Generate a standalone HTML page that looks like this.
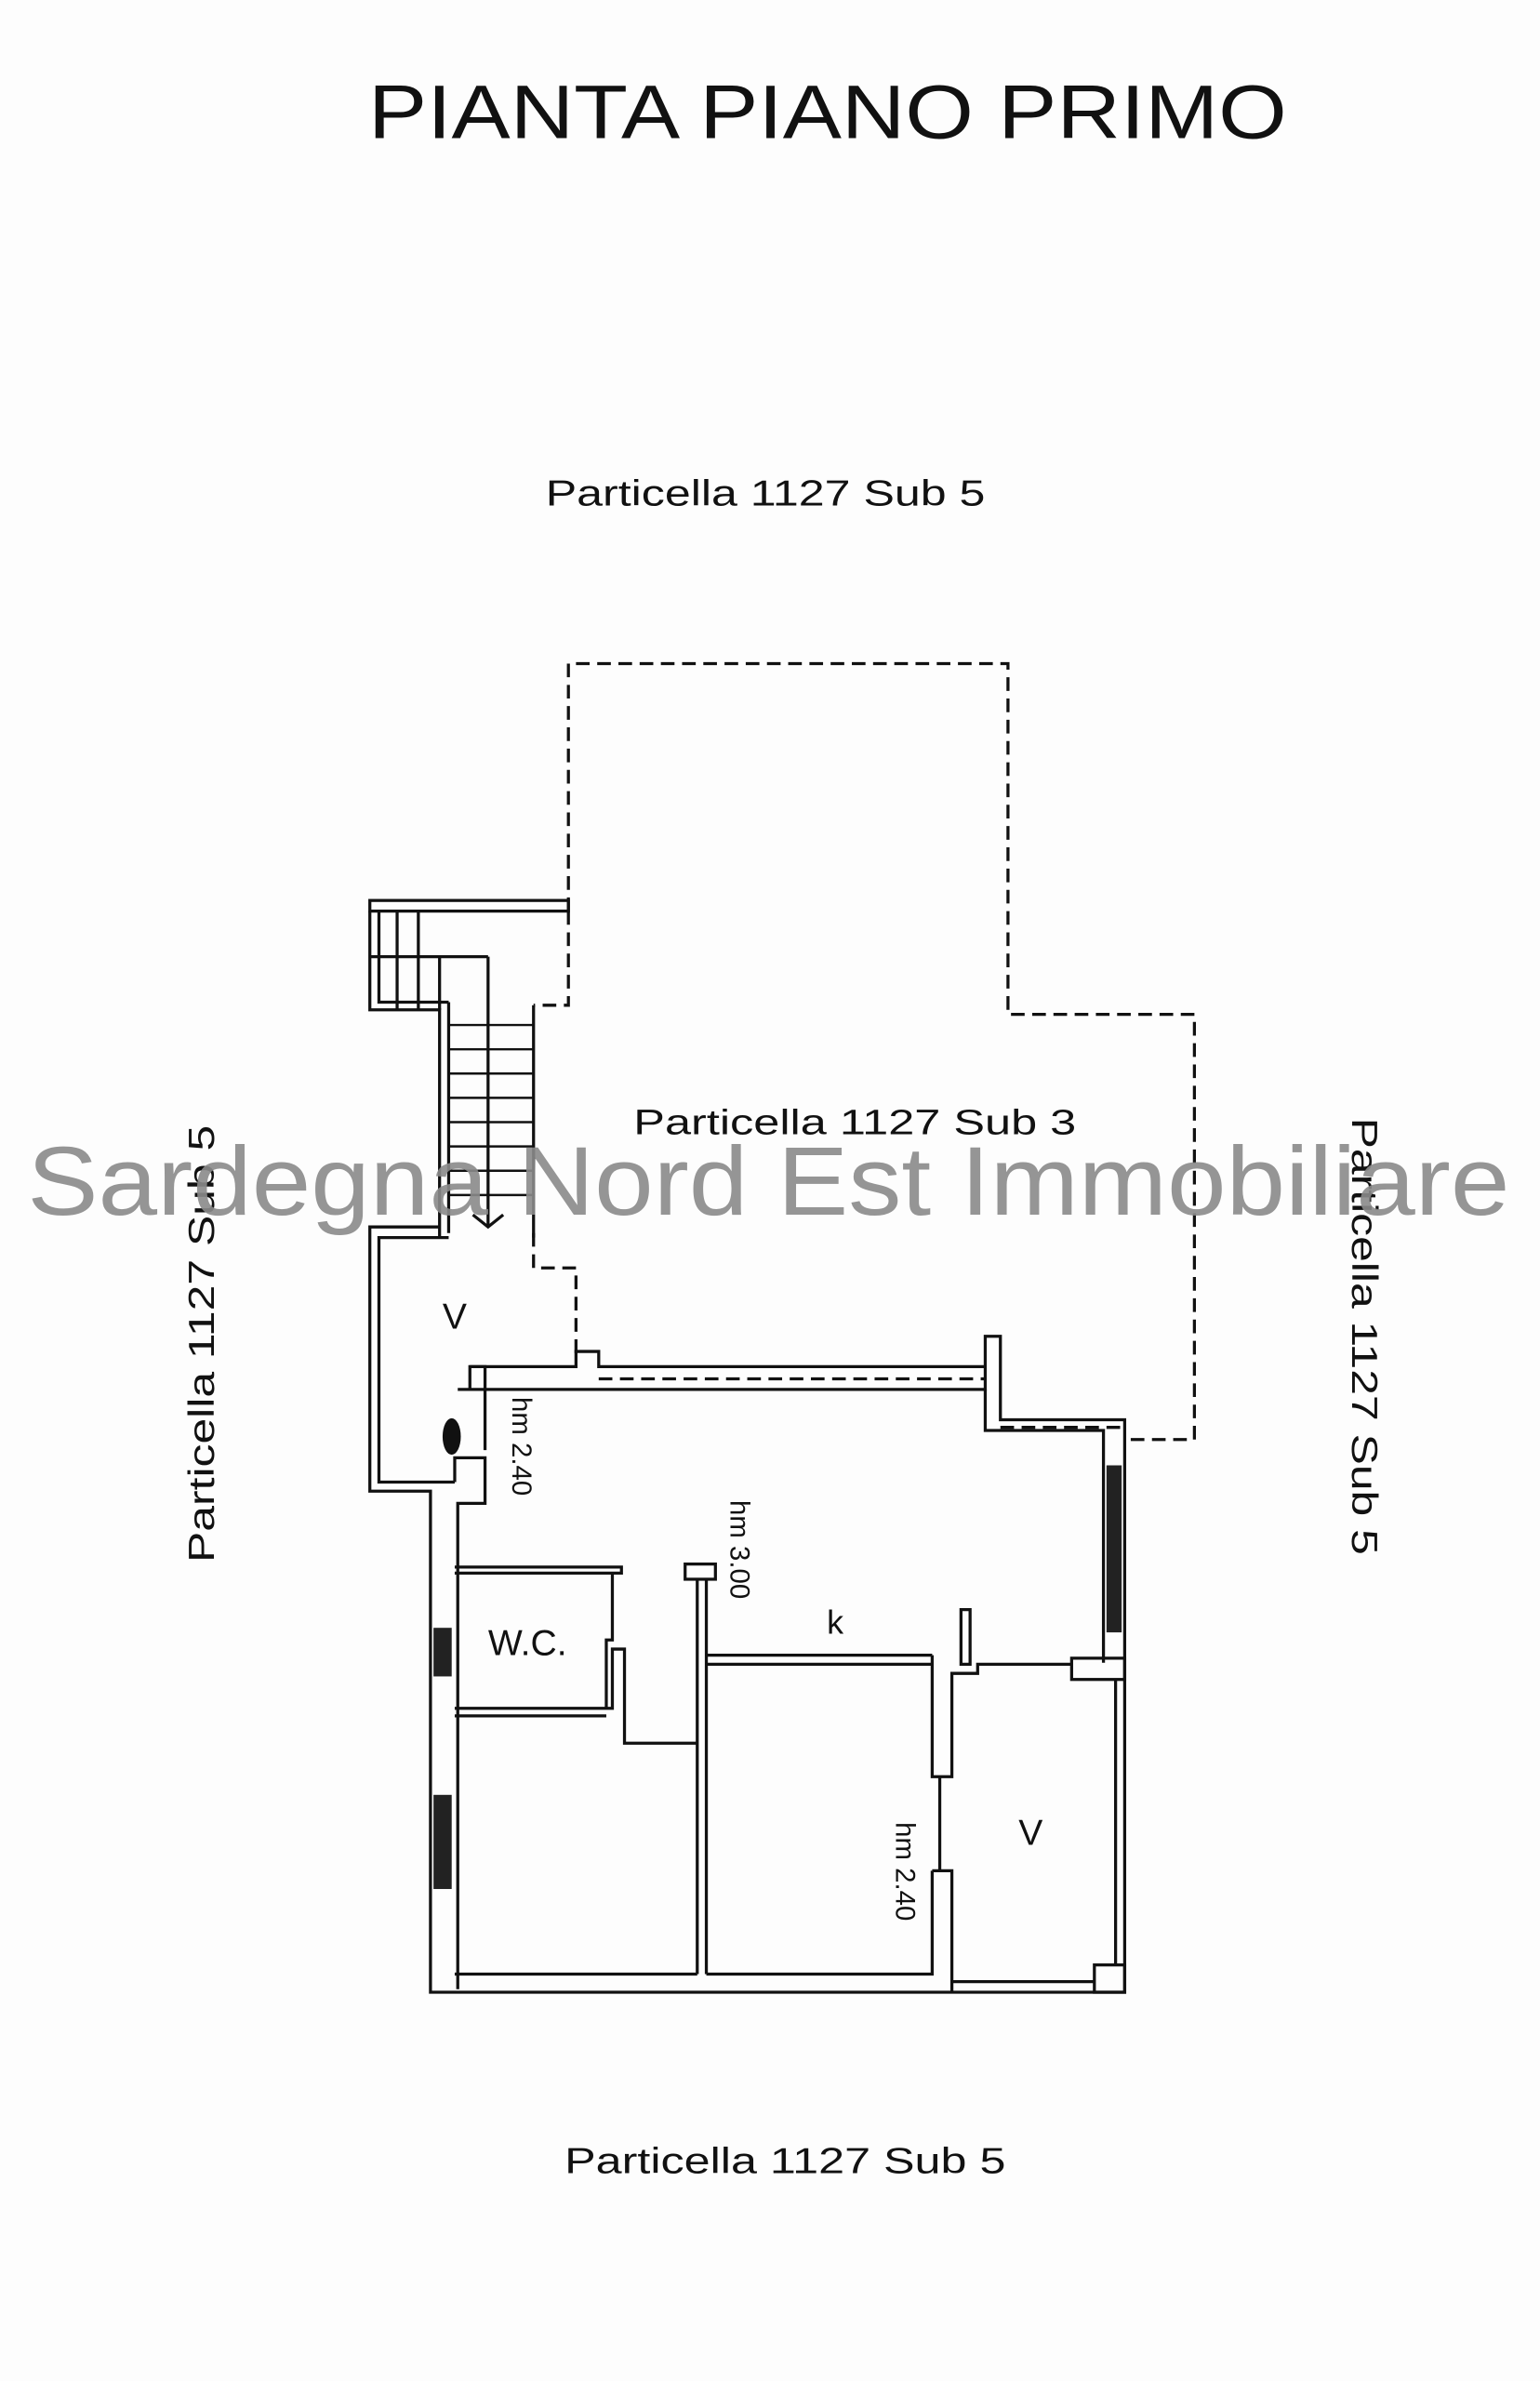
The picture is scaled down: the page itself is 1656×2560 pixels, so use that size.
<!DOCTYPE html>
<html><head><meta charset="utf-8"><style>
html,body{margin:0;padding:0;background:#fdfdfd;}
svg{display:block;}
text{font-family:"Liberation Sans",sans-serif;fill:#111;}
</style></head><body>
<svg width="1656" height="2560" viewBox="0 0 1016 1568" preserveAspectRatio="none" xmlns="http://www.w3.org/2000/svg">
<rect width="1016" height="1568" fill="#fdfdfd"/>
<text x="546" y="91" font-size="50" text-anchor="middle" textLength="606" lengthAdjust="spacingAndGlyphs">PIANTA PIANO PRIMO</text>
<text x="505" y="333" font-size="24" text-anchor="middle" textLength="290" lengthAdjust="spacingAndGlyphs">Particella 1127 Sub 5</text>
<text x="518" y="1431" font-size="24" text-anchor="middle" textLength="291" lengthAdjust="spacingAndGlyphs">Particella 1127 Sub 5</text>
<text transform="translate(141,885) rotate(-90)" font-size="24" text-anchor="middle" textLength="288" lengthAdjust="spacingAndGlyphs">Particella 1127 Sub 5</text>
<text transform="translate(892,880) rotate(90)" font-size="24" text-anchor="middle" textLength="288" lengthAdjust="spacingAndGlyphs">Particella 1127 Sub 5</text>
<text x="564" y="747" font-size="23" text-anchor="middle" textLength="292" lengthAdjust="spacingAndGlyphs">Particella 1127 Sub 3</text>

<g fill="none" stroke="#111" stroke-width="2">
<!-- dashed boundary -->
<polyline stroke-dasharray="9,5" points="375,600 375,437 665,437 665,668 788,668 788,948 742,948"/>
<polyline stroke-dasharray="9,5" points="375,600 375,662 352,662"/>
<polyline stroke-dasharray="9,5" points="352,812 352,835 380,835 380,892"/>
<polyline stroke-dasharray="9,5" points="395,908 650,908"/>
<polyline stroke-dasharray="9,5" points="660,940 742,940"/>
<!-- stairs block -->
<rect x="244" y="593" width="131" height="7"/>
<polyline points="244,600 244,665 290,665 290,815"/>
<polyline points="250,600 250,660 296,660"/>
<line x1="262" y1="600" x2="262" y2="665"/><line x1="276" y1="600" x2="276" y2="665"/><line x1="244" y1="630" x2="322" y2="630"/>
<line x1="290" y1="630" x2="290" y2="665"/>
<line x1="322" y1="630" x2="322" y2="808"/>
<polyline points="296,660 296,812"/>
<line x1="352" y1="662" x2="352" y2="815"/>
<g stroke-width="1.5">
<line x1="296" y1="675" x2="352" y2="675"/><line x1="296" y1="691" x2="352" y2="691"/><line x1="296" y1="707" x2="352" y2="707"/><line x1="296" y1="723" x2="352" y2="723"/><line x1="296" y1="739" x2="352" y2="739"/><line x1="296" y1="755" x2="352" y2="755"/><line x1="296" y1="771" x2="352" y2="771"/><line x1="296" y1="787" x2="352" y2="787"/>
</g>
<polyline points="312,800 322,808 332,800"/>
<!-- left veranda wall -->
<polyline points="290,808 244,808 244,982 285,982"/>
<polyline points="296,815 250,815 250,976 300,976"/>
<polyline points="300,976 300,960 320,960 320,990 302,990 302,1310"/>
<polyline points="284,982 284,1312 742,1312 742,935 660,935 660,880 650,880 650,915 302,915 310,915 310,900 320,900 320,915"/>
<polyline points="310,900 380,900 380,890 395,890 395,900 650,900"/>
<polyline points="320,915 320,955"/>
<polyline points="650,915 650,942 728,942 728,1095"/>
<rect x="707" y="1092" width="35" height="14"/>
<!-- interior walls -->
<polyline points="300,1032 410,1032 410,1036 300,1036"/>
<polyline points="300,1125 404,1125 404,1086 412,1086 412,1148 460,1148"/>
<polyline points="300,1130 400,1130"/>
<polyline points="404,1036 404,1080 400,1080 400,1125"/>
<polyline points="460,1040 460,1300"/>
<polyline points="466,1040 466,1300"/>
<rect x="452" y="1030" width="20" height="10"/>
<line x1="466" y1="1090" x2="615" y2="1090"/>
<line x1="466" y1="1096" x2="615" y2="1096"/>
<polyline points="615,1090 615,1170 628,1170 628,1102 645,1102 645,1096 707,1096"/>
<rect x="634" y="1060" width="6" height="36"/>
<line x1="620" y1="1170" x2="620" y2="1232"/>
<polyline points="615,1232 615,1300 466,1300"/>
<polyline points="615,1232 628,1232 628,1312"/>
<polyline points="628,1305 722,1305"/>
<rect x="722" y="1294" width="20" height="18"/>
<line x1="736" y1="1106" x2="736" y2="1294"/>
<line x1="300" y1="1300" x2="460" y2="1300"/>
</g>
<!-- windows -->
<rect x="286" y="1072" width="12" height="32" fill="#222"/>
<rect x="286" y="1182" width="12" height="62" fill="#222"/>
<rect x="730" y="965" width="10" height="110" fill="#222"/>
<ellipse cx="298" cy="946" rx="6" ry="12" fill="#111"/>
<text x="300" y="875" font-size="24" text-anchor="middle">V</text>
<text x="680" y="1215" font-size="24" text-anchor="middle">V</text>
<text x="348" y="1090" font-size="24" text-anchor="middle">W.C.</text>
<text x="551" y="1076" font-size="22" text-anchor="middle">k</text>
<text transform="translate(338,920) rotate(90)" font-size="18">hm 2.40</text>
<text transform="translate(482,988) rotate(90)" font-size="18">hm 3.00</text>
<text transform="translate(591,1200) rotate(90)" font-size="18">hm 2.40</text>
<text x="507" y="800" font-size="64" text-anchor="middle" fill="#888" style="fill:#8a8a8a;opacity:0.9" textLength="978" lengthAdjust="spacingAndGlyphs">Sardegna Nord Est Immobiliare</text>
</svg>
</body></html>
